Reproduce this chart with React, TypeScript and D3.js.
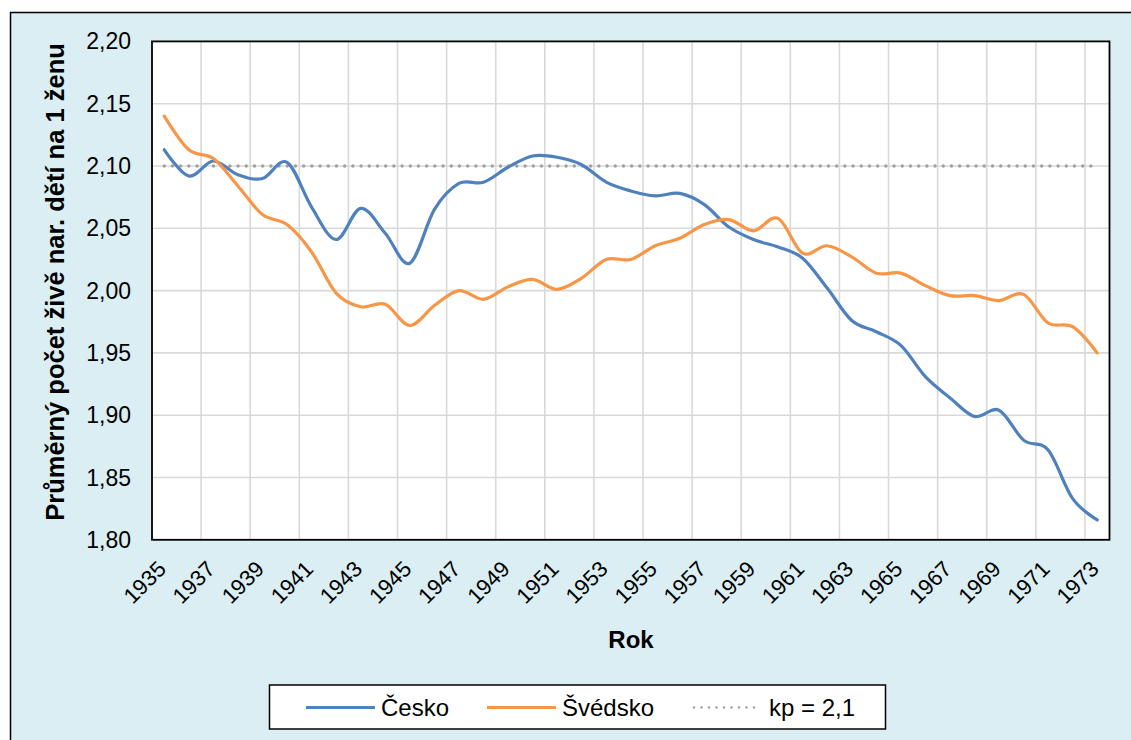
import React from "react";
import * as d3 from "d3";

const years: number[] = d3.range(1935, 1974);
const cesko: number[] = [
  2.113, 2.092, 2.104, 2.093, 2.090, 2.103, 2.067, 2.041, 2.066, 2.046,
  2.022, 2.065, 2.086, 2.087, 2.099, 2.108, 2.107, 2.101, 2.087, 2.080,
  2.076, 2.078, 2.069, 2.051, 2.041, 2.035, 2.026, 2.002, 1.976, 1.967,
  1.956, 1.931, 1.914, 1.899, 1.904, 1.880, 1.872, 1.833, 1.816,
];
const svedsko: number[] = [
  2.140, 2.113, 2.106, 2.084, 2.061, 2.053, 2.031, 1.998, 1.987, 1.989,
  1.972, 1.988, 2.000, 1.993, 2.003, 2.009, 2.001, 2.010, 2.025, 2.025,
  2.036, 2.042, 2.053, 2.057, 2.048, 2.058, 2.030, 2.036, 2.027, 2.014,
  2.014, 2.004, 1.996, 1.996, 1.992, 1.997, 1.974, 1.971, 1.950,
];
const kp = 2.1;
const yTicks: number[] = [1.8, 1.85, 1.9, 1.95, 2.0, 2.05, 2.1, 2.15, 2.2];
const xLabelYears: number[] = years.filter((y) => (y - 1935) % 2 === 0);
const seriesNames = ["Česko", "Švédsko", "kp = 2,1"];
const yTitle = "Průměrný počet živě nar. dětí na 1 ženu";
const xTitle = "Rok";

const W = 1131;
const H = 740;
const plot = { left: 152, right: 1109.5, top: 41.4, bottom: 539.8 };
const BLUE = "#4F81BD";
const ORANGE = "#F79646";
const GRAY = "#A0A0A0";
const GRID = "#D9D9D9";
const FONT = "'Liberation Sans', Arial, sans-serif";

export default function App() {
  const x = d3
    .scaleLinear()
    .domain([years[0] - 0.5, years[years.length - 1] + 0.5])
    .range([plot.left, plot.right]);
  const y = d3.scaleLinear().domain([1.8, 2.2]).range([plot.bottom, plot.top]);
  const fmt = (v: number) => v.toFixed(2).replace(".", ",");

  const line = d3
    .line<number>()
    .x((_, i) => x(years[i]))
    .y((d) => y(d))
    .curve(d3.curveCardinal.tension(0));

  const vGrid: number[] = [];
  for (let yr = years[0] - 0.5 + 2; yr < years[years.length - 1] + 0.5; yr += 2) vGrid.push(yr);

  const legY = 707.5;
  const xFs = 22;
  return (
    <svg
      width={W}
      height={H}
      style={{ position: "absolute", left: 0, top: 0, fontFamily: FONT }}
    >
      <rect x={0} y={0} width={W} height={H} fill="#fff" />
      <rect x={10.5} y={12.5} width={1300} height={900} fill="#DAEEF3" stroke="#000" strokeWidth={1.5} />
      <rect
        x={plot.left}
        y={plot.top}
        width={plot.right - plot.left}
        height={plot.bottom - plot.top}
        fill="#fff"
      />
      {yTicks.slice(1, -1).map((t) => (
        <line key={"h" + t} x1={plot.left} x2={plot.right} y1={y(t)} y2={y(t)} stroke={GRID} strokeWidth={1.6} />
      ))}
      {vGrid.map((g) => (
        <line key={"v" + g} x1={x(g)} x2={x(g)} y1={plot.top} y2={plot.bottom} stroke={GRID} strokeWidth={1.6} />
      ))}
      <line
        x1={x(years[0])}
        x2={x(years[years.length - 1])}
        y1={y(kp)}
        y2={y(kp)}
        stroke={GRAY}
        strokeWidth={3.4}
        strokeDasharray="0 8.2"
        strokeLinecap="round"
      />
      <path d={line(cesko) || ""} fill="none" stroke={BLUE} strokeWidth={3.2} strokeLinejoin="round" strokeLinecap="round" />
      <path d={line(svedsko) || ""} fill="none" stroke={ORANGE} strokeWidth={3.2} strokeLinejoin="round" strokeLinecap="round" />
      <rect
        x={plot.left}
        y={plot.top}
        width={plot.right - plot.left}
        height={plot.bottom - plot.top}
        fill="none"
        stroke="#000"
        strokeWidth={1.8}
      />
      {yTicks.map((t) => (
        <text key={"yl" + t} x={131} y={y(t)} dy="0.35em" textAnchor="end" fontSize={23} fill="#000">
          {fmt(t)}
        </text>
      ))}
      {xLabelYears.map((yr) => (
        <text
          key={"xl" + yr}
          transform={`translate(${x(yr) - 2.4},${565}) rotate(-45)`}
          dy="0.35em"
          textAnchor="end"
          fontSize={xFs}
          fill="#000"
        >
          {yr}
        </text>
      ))}
      <text
        transform={`translate(55,${282}) rotate(-90)`}
        dy="0.35em"
        textAnchor="middle"
        fontSize={25.5}
        fontWeight="bold"
        fill="#000"
      >
        {yTitle}
      </text>
      <text x={631} y={640} dy="0.35em" textAnchor="middle" fontSize={24} fontWeight="bold" fill="#000">
        {xTitle}
      </text>
      <rect x={269.5} y={685} width={616} height={44} fill="#fff" stroke="#000" strokeWidth={1.5} />
      <line x1={306} x2={375} y1={legY} y2={legY} stroke={BLUE} strokeWidth={3.2} />
      <text x={381} y={legY} dy="0.35em" fontSize={24} fill="#000">{seriesNames[0]}</text>
      <line x1={487} x2={556} y1={legY} y2={legY} stroke={ORANGE} strokeWidth={3.2} />
      <text x={562} y={legY} dy="0.35em" fontSize={24} fill="#000">{seriesNames[1]}</text>
      <line x1={694} x2={758} y1={legY} y2={legY} stroke={GRAY} strokeWidth={2.6} strokeDasharray="0 7.5" strokeLinecap="round" />
      <text x={769} y={legY} dy="0.35em" fontSize={24} fill="#000">{seriesNames[2]}</text>
    </svg>
  );
}
